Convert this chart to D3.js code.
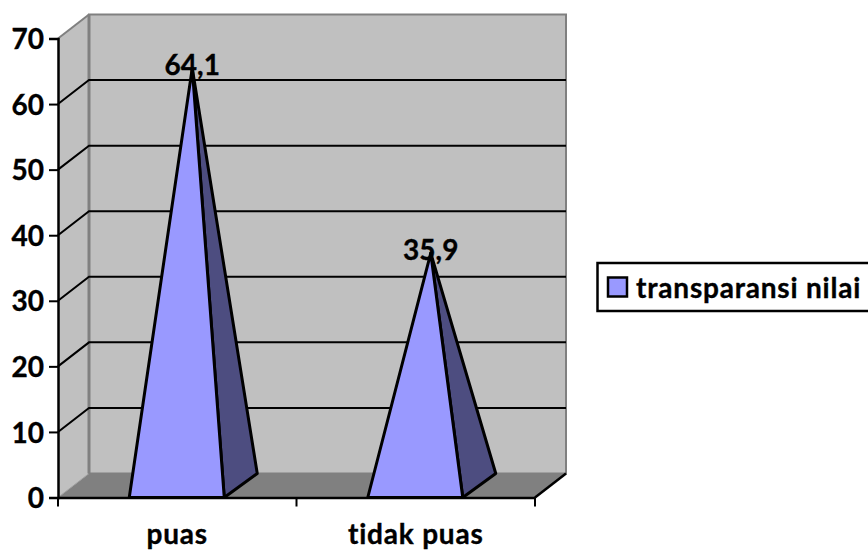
<!DOCTYPE html>
<html>
<head>
<meta charset="utf-8">
<script src="https://cdn.jsdelivr.net/npm/d3@7"></script>
<style>
html,body{margin:0;padding:0;background:#fff;overflow:hidden}
svg{display:block}
text{font-family:Lato,"Open Sans",sans-serif;font-weight:700;fill:#000;stroke:#000;stroke-width:0.35px;font-variant-ligatures:none;font-size:28px}
</style>
</head>
<body>
<script>
// Chart data
const categories = ["puas", "tidak puas"];
const seriesName = "transparansi nilai";
const values = [64.1, 35.9];
const valueLabels = ["64,1", "35,9"];
const yTicks = [0, 10, 20, 30, 40, 50, 60, 70];

const width = 868, height = 552;
const plot = {left: 58, right: 535, top: 38.5, bottom: 497.5};
const depth = {x: 31, y: -24};
const wallFill = "#c0c0c0", floorFill = "#808080", edge = "#808080";
const frontFill = "#9999ff", sideFill = "#4d4d80";

const svg = d3.select("body").append("svg").attr("width", width).attr("height", height);

const y = d3.scaleLinear().domain([0, 70]).range([plot.bottom, plot.top]);
const x = d3.scaleBand().domain(categories).range([plot.left, plot.right]);
const pts = a => a.map(p => p.join(",")).join(" ");

// Back wall, side wall and floor of the 3D box
const bx0 = plot.left + depth.x, bx1 = plot.right + depth.x;
const backY = v => y(v) + depth.y;
svg.append("polygon").attr("points", pts([[plot.left, y(0)], [plot.left, y(70)], [bx0, backY(70)], [bx0, backY(0)]]))
  .attr("fill", wallFill);
svg.append("rect").attr("x", bx0).attr("y", backY(70)).attr("width", bx1 - bx0).attr("height", backY(0) - backY(70))
  .attr("fill", wallFill).attr("stroke", edge).attr("stroke-width", 2);
svg.append("polygon").attr("points", pts([[plot.left, y(0)], [bx0, backY(0)], [bx1, backY(0)], [plot.right, y(0)]]))
  .attr("fill", floorFill);
svg.append("line").attr("x1", plot.left).attr("y1", y(70)).attr("x2", bx0).attr("y2", backY(70))
  .attr("stroke", edge).attr("stroke-width", 2);
svg.append("line").attr("x1", plot.left).attr("y1", y(0)).attr("x2", bx0).attr("y2", backY(0))
  .attr("stroke", "#a0a0a0").attr("stroke-width", 1);
svg.append("line").attr("x1", bx0).attr("y1", backY(70)).attr("x2", bx0).attr("y2", backY(0))
  .attr("stroke", edge).attr("stroke-width", 3);

// Gridlines wrap from the side wall across the back wall
svg.append("g").selectAll("polyline").data(yTicks.filter(t => t > 0 && t < 70)).join("polyline")
  .attr("points", d => pts([[plot.left, y(d)], [bx0, backY(d)], [bx1, backY(d)]]))
  .attr("fill", "none").attr("stroke", "#000").attr("stroke-width", 2);

// Axes
const yAxis = svg.append("g").attr("transform", `translate(${plot.left},0)`)
  .call(d3.axisLeft(y).tickValues(yTicks).tickSize(9).tickPadding(5));
yAxis.selectAll("text").style("font-size", "28px").attr("dy", "0.36em");
const xAxis = svg.append("g").attr("transform", `translate(0,${plot.bottom})`)
  .call(d3.axisBottom(x).tickSize(0).tickPadding(27));
xAxis.selectAll("text").style("font-size", "28px").style("letter-spacing", "0.8px");
const xBoundaries = d3.scaleLinear().domain([0, categories.length]).range([plot.left, plot.right]);
svg.append("g").selectAll("line").data(d3.range(categories.length + 1)).join("line")
  .attr("x1", d => xBoundaries(d)).attr("x2", d => xBoundaries(d))
  .attr("y1", plot.bottom).attr("y2", plot.bottom + 9)
  .attr("stroke", "#000").attr("stroke-width", 2);
svg.selectAll("g .domain").attr("stroke-width", 2.5).attr("stroke", "#000");
yAxis.selectAll(".tick line").attr("stroke-width", 2);

// Right floor edge
svg.append("line").attr("x1", plot.right).attr("y1", y(0)).attr("x2", bx1).attr("y2", backY(0))
  .attr("stroke", "#000").attr("stroke-width", 2.5);

// Pyramids: apex sits above the centre of the square base
const baseWidth = 95;
const pyr = svg.append("g").selectAll("g").data(categories).join("g");
pyr.each(function (c, i) {
  const g = d3.select(this);
  const cx = x(c) + x.bandwidth() / 2 - 0.5;
  const l = cx - baseWidth / 2, r = cx + baseWidth / 2;
  const apex = [cx + depth.x / 2, y(values[i]) + depth.y / 2 + 3];
  g.append("polygon").attr("points", pts([[r, y(0)], [r + depth.x + 2, backY(0)], apex]))
    .attr("fill", sideFill).attr("stroke", "#000").attr("stroke-width", 3).attr("stroke-linejoin", "round");
  g.append("polygon").attr("points", pts([[l, y(0)], [r, y(0)], apex]))
    .attr("fill", frontFill).attr("stroke", "#000").attr("stroke-width", 3).attr("stroke-linejoin", "round");
  g.append("text").attr("x", apex[0]).attr("y", apex[1] + 7).attr("text-anchor", "middle")
    .text(valueLabels[i]);
});

// Legend
const legend = svg.append("g");
legend.append("rect").attr("x", 597.5).attr("y", 263).attr("width", 272).attr("height", 48)
  .attr("fill", "#fff").attr("stroke", "#000").attr("stroke-width", 2.5);
legend.append("rect").attr("x", 608).attr("y", 277.5).attr("width", 19).attr("height", 19)
  .attr("fill", frontFill).attr("stroke", "#000").attr("stroke-width", 2.5);
legend.append("text").attr("x", 636).attr("y", 298).style("letter-spacing", "0.8px").text(seriesName);
</script>
</body>
</html>
